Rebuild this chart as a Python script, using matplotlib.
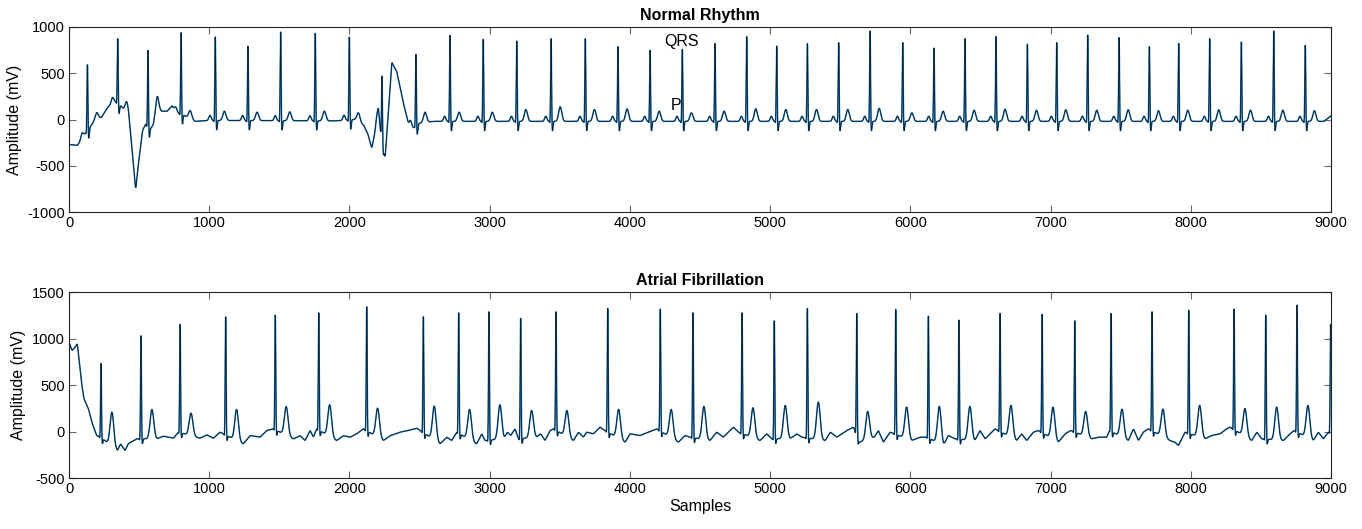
import numpy as np
import matplotlib
matplotlib.use("Agg")
import matplotlib.pyplot as plt

plt.rcParams['font.family'] = ['Liberation Sans', 'DejaVu Sans']
plt.rcParams['axes.unicode_minus'] = False

N_SAMPLES = 9000
x_ticks = [0, 1000, 2000, 3000, 4000, 5000, 6000, 7000, 8000, 9000]
nr_y_ticks = [-1000, -500, 0, 500, 1000]
af_y_ticks = [-500, 0, 500, 1000, 1500]

# ---------------- Normal rhythm ----------------
nr_r_pos = [131, 347, 563, 799, 1043, 1276, 1509, 1756, 1999, 2232, 2474, 2717, 2954,
            3193, 3438, 3682, 3915, 4144, 4374, 4607, 4833, 5047, 5266, 5489, 5713,
            5946, 6169, 6390, 6611, 6835, 7044, 7265, 7489, 7705, 7914, 8135, 8361,
            8592, 8817]
nr_r_amp = [590, 872, 746, 937, 890, 792, 944, 930, 890, 468, 703, 908, 865,
            847, 873, 873, 786, 747, 757, 819, 895, 793, 819, 830, 955,
            830, 771, 873, 895, 812, 830, 912, 884, 786, 822, 873, 836,
            955, 800]
nr_t_amp = [72, 190, 245, 97, 90, 79, 83, 90, 72, 0, 79, 79, 79,
            108, 137, 108, 115, 90, 72, 90, 115, 108, 108, 108, 120,
            72, 90, 100, 110, 100, 105, 100, 105, 95, 100, 105, 100,
            100, 95]
nr_base_x = [0, 60, 110, 200, 230, 270, 320, 350, 400, 425, 445, 475, 495, 518, 545,
             580, 600, 630, 660, 700, 735, 760, 800, 850, 900, 1000, 1900, 2040,
             2100, 2130, 2159, 2185, 2206, 2218, 2240, 2254, 2277, 2301, 2337, 2384,
             2420, 2451, 2500, 2600, 8950, 9000]
nr_base_y = [-270, -280, -160, 20, 20, 120, 200, 180, 90, 20, -250, -760, -470, -220, -50,
             -100, -60, 120, 90, 90, 150, 80, 60, 20, -20, -10, -15, 0,
             -60, -150, -310, -120, 120, -80, -250, -420, 80, 620, 520, 180,
             -40, -90, -40, -20, -20, 40]

# ---------------- Atrial fibrillation ----------------
af_r_pos = [228, 513, 792, 1117, 1471, 1781, 2123, 2527, 2779, 2995, 3221, 3473, 3842,
            4217, 4450, 4800, 5030, 5266, 5618, 5896, 6129, 6347, 6640, 6940, 7173,
            7432, 7724, 7986, 8309, 8535, 8758, 8998]
af_r_amp = [730, 1028, 1150, 1232, 1250, 1275, 1340, 1232, 1275, 1286, 1215, 1286, 1322,
            1315, 1275, 1275, 1189, 1322, 1268, 1311, 1240, 1197, 1268, 1258, 1189,
            1268, 1286, 1304, 1315, 1250, 1358, 1150]
af_t_amp = [208, 237, 197, 237, 269, 287, 251, 273, 237, 287, 226, 226, 237,
            237, 270, 255, 280, 316, 216, 262, 270, 270, 280, 262, 216,
            240, 240, 280, 247, 262, 280, 0]
af_base_x = [0, 21, 40, 59, 90, 107, 138, 166, 197, 216, 345, 368, 399, 423, 483, 625, 673,
             744, 780, 934, 982, 1029, 1077, 1243, 1291, 1362, 1410, 1457, 1600, 1648,
             1683, 1719, 1743, 1766, 1909, 1956, 2004, 2052, 2099, 2242, 2290, 2361,
             2408, 2479, 2646, 2694, 2729, 2765, 2907, 2943, 2967, 3102, 3126, 3150,
             3181, 3205, 3335, 3364, 3395, 3431, 3455, 3597, 3633, 3668, 3692, 3740,
             3787, 3823, 3966, 4001, 4072, 4132, 4191, 4346, 4393, 4429, 4571, 4619,
             4666, 4738, 4774, 4928, 4976, 5012, 5142, 5190, 5226, 5393, 5428, 5476,
             5547, 5595, 5637, 5742, 5772, 5808, 5856, 6010, 6069, 6117, 6236, 6271,
             6319, 6461, 6497, 6533, 6569, 6604, 6759, 6794, 6830, 6878, 6914, 7056,
             7104, 7144, 7294, 7341, 7401, 7420, 7555, 7591, 7627, 7662, 7698, 7852,
             7888, 7912, 7959, 8102, 8150, 8209, 8256, 8280, 8435, 8471, 8506, 8661,
             8708, 8737, 8874, 8910, 8946, 8982, 9000]
af_base_y = [960, 870, 900, 945, 510, 350, 245, 85, -45, -50, -205, -133, -205, -130, -79, -79, -50,
             -72, -7, -72, -36, -72, -7, -133, -43, -61, 11, 29, -79, -45,
             -97, 11, -60, 29, -97, -45, -61, -25, 29, -97, -45, -7,
             7, 36, -133, -61, -97, -7, -133, -25, -97, -79, -7, -43,
             29, -79, -61, -25, -97, 11, 29, -97, -7, -61, -7, -25,
             47, 11, -115, -25, -43, -7, 29, -115, -43, -61, -97, -7,
             -61, 47, -7, -97, -25, -79, -79, -25, -61, -97, -7, -61,
             11, 47, -115, -61, 11, -115, -7, -97, -61, -61, -151, -43,
             -79, -97, 11, -79, -25, 29, -97, -25, -97, -7, 11, -115,
             -25, 11, -79, -61, -61, 11, -97, 29, -97, -7, 29, -97,
             -115, -151, -7, -79, -43, -25, 29, 47, -97, -7, -79, -97,
             -25, 11, -97, -7, -79, -7, -7]


def gauss(n, center, sigma):
    t = np.arange(n)
    return np.exp(-0.5 * ((t - center) / sigma) ** 2)


def build_trace(n, base_x, base_y, r_pos, r_amp, t_amp, t_off, t_sig,
                s_off, s_amp, p_off=None, p_amp=0.0):
    sig = np.interp(np.arange(n), base_x, base_y).astype(float)
    k = np.ones(7) / 7.0
    sig = np.convolve(np.pad(sig, 3, mode='edge'), k, mode='valid')
    for p in r_pos:
        sig += s_amp * gauss(n, p + s_off, 4.0)
        sig += -30 * gauss(n, p - 7, 3.0)
        if p_off is not None:
            sig += p_amp * gauss(n, p + p_off, 8.0)
    for p, ta in zip(r_pos, t_amp):
        tp = int(round(p + t_off))
        if ta > 0 and tp < n:
            sig += (ta - sig[tp]) * gauss(n, tp, t_sig)
    for p, ra in zip(r_pos, r_amp):
        pp = min(int(p), n - 1)
        sig += (ra - sig[pp]) * gauss(n, pp, 3.2)
    return sig


x = np.arange(N_SAMPLES)
nr = build_trace(N_SAMPLES, nr_base_x, nr_base_y, nr_r_pos, nr_r_amp, nr_t_amp,
                 65, 11, 9, -110, p_off=-38, p_amp=55)
af = build_trace(N_SAMPLES, af_base_x, af_base_y, af_r_pos, af_r_amp, af_t_amp,
                 78, 13, 9, -60)

fig = plt.figure(figsize=(13.62, 5.29), dpi=100)
ax1 = fig.add_axes([0.0507, 0.5992, 0.9265, 0.3498])
ax2 = fig.add_axes([0.0507, 0.0964, 0.9265, 0.3516])

blue = '#1f7fc4'
dark = '#0a141c'

for ax, y, yt, ylim, title in [(ax1, nr, nr_y_ticks, (-1000, 1000), 'Normal Rhythm'),
                               (ax2, af, af_y_ticks, (-500, 1500), 'Atrial Fibrillation')]:
    ax.plot(x, y, color=blue, lw=1.1, solid_joinstyle='round')
    ax.plot(x, y, color=dark, lw=0.6, solid_joinstyle='round', alpha=0.9)
    ax.set_xlim(0, 9000)
    ax.set_ylim(*ylim)
    ax.set_xticks(x_ticks)
    ax.set_yticks(yt)
    ax.tick_params(direction='in', length=5, width=0.8, color='#666666',
                   labelsize=10.5, top=True, right=True, pad=3)
    for s in ax.spines.values():
        s.set_linewidth(0.8)
        s.set_color('#222222')
    ax.set_title(title, fontsize=11.5, fontweight='bold', pad=5)
    ax.set_ylabel('Amplitude (mV)', fontsize=11.5, labelpad=4)

ax2.set_xlabel('Samples', fontsize=11.5, labelpad=2)
ax1.text(4372, 844, 'QRS', fontsize=11.5, ha='center', va='center')
ax1.text(4329, 150, 'P', fontsize=11.5, ha='center', va='center')

fig.savefig('out.png', dpi=100)
